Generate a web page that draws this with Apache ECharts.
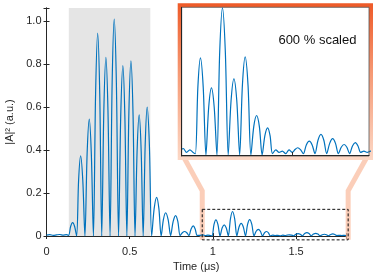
<!DOCTYPE html>
<html><head><meta charset="utf-8">
<script src="https://cdn.jsdelivr.net/npm/echarts@6/dist/echarts.min.js"></script>
<style>html,body{margin:0;padding:0;background:#fff}#c{width:374px;height:276px}</style>
</head><body><div id="c"></div>
<script>
// ---- data (time in μs, |A|^2 in a.u.) ----
const time = [
  0.000, 0.020, 0.040, 0.060, 0.080, 0.100, 0.120, 0.133,
  0.145, 0.157, 0.169, 0.181,
  0.193, 0.205, 0.218, 0.231,
  0.244, 0.257, 0.2695, 0.282,
  0.295, 0.3075, 0.320, 0.332,
  0.3445, 0.357, 0.3695, 0.382,
  0.3945, 0.407, 0.420, 0.433,
  0.446, 0.459, 0.471, 0.483,
  0.495, 0.5075, 0.520, 0.532,
  0.5445, 0.557, 0.569, 0.581,
  0.593, 0.605, 0.6185, 0.632,
  0.647, 0.662, 0.6755, 0.689,
  0.7025, 0.716, 0.731, 0.746,
  0.761, 0.776, 0.7895, 0.803,
  0.8165, 0.830, 0.843, 0.856,
  0.869, 0.882, 0.8935, 0.905,
  0.920, 0.940, 0.955, 0.970, 0.985, 0.995,
  1.0065, 1.018, 1.0305, 1.043,
  1.0555, 1.068, 1.0805, 1.093,
  1.1055, 1.118, 1.131, 1.144,
  1.157, 1.170, 1.183, 1.196,
  1.2085, 1.221, 1.234, 1.247,
  1.260, 1.273, 1.2855, 1.298,
  1.3105, 1.323, 1.334, 1.345,
  1.360, 1.375, 1.390, 1.405, 1.420, 1.435,
  1.447, 1.459, 1.472, 1.485,
  1.4985, 1.512, 1.525, 1.538,
  1.5515, 1.565, 1.578, 1.591,
  1.6045, 1.618, 1.631, 1.644,
  1.657, 1.670, 1.6825, 1.695,
  1.708, 1.721, 1.733, 1.745,
  1.760, 1.775, 1.790, 1.800
];
const intensity = [
  0.004, 0.006, 0.003, 0.005, 0.007, 0.004, 0.006, 0.003,
  0.044, 0.062, 0.044, 0.000,
  0.260, 0.373, 0.260, 0.000,
  0.380, 0.543, 0.380, 0.000,
  0.660, 0.943, 0.660, 0.000,
  0.580, 0.830, 0.580, 0.000,
  0.710, 1.008, 0.710, 0.000,
  0.555, 0.792, 0.555, 0.000,
  0.570, 0.814, 0.570, 0.000,
  0.395, 0.563, 0.395, 0.000,
  0.420, 0.599, 0.420, 0.000,
  0.127, 0.180, 0.127, 0.000,
  0.076, 0.108, 0.076, 0.002,
  0.067, 0.095, 0.067, 0.002,
  0.015, 0.021, 0.015, 0.002,
  0.033, 0.047, 0.033, 0.003,
  0.003, 0.005, 0.002, 0.004, 0.002, 0.001,
  0.053, 0.0753, 0.053, 0.000,
  0.037, 0.052, 0.037, 0.000,
  0.080, 0.114, 0.080, 0.000,
  0.042, 0.059, 0.042, 0.000,
  0.054, 0.076, 0.054, 0.000,
  0.022, 0.0306, 0.022, 0.000,
  0.015, 0.021, 0.015, 0.001,
  0.004, 0.002, 0.003, 0.001, 0.004, 0.002,
  0.0042, 0.0056, 0.0042, 0.001,
  0.0078, 0.0107, 0.0078, 0.001,
  0.0114, 0.0159, 0.0114, 0.001,
  0.009, 0.0126, 0.009, 0.001,
  0.006, 0.0081, 0.006, 0.001,
  0.007, 0.0095, 0.007, 0.002,
  0.003, 0.002, 0.003, 0.002
];
const xTicksMain = [0, 0.5, 1, 1.5];
const yTicksMain = [0, 0.2, 0.4, 0.6, 0.8, 1.0];
const xTicksInset = [1.0, 1.5];
const mainXRange = [0, 1.8];
const mainYRange = [0, 1.06];
const shadedRange = [0.134, 0.624];
const zoomBoxX = [0.936, 1.813];
const zoomBoxY = [-0.018, 0.124];
const funnelBendY = 0.21;
const insetXRange = [0.933, 1.783];
const insetYRange = [-0.0008, 0.1145];
const insetLabel = '600 % scaled';
const insetLabelAt = [1.549, 0.089];
const xName = 'Time (μs)';
const yName = '|A|² (a.u.)';

// ---- chart ----
const FONT = 'Liberation Sans, Arial, Helvetica, sans-serif';
const AX = '#262626';
const pts = time.map((t, i) => [t, intensity[i]]);
const inList = (arr) => (v) => arr.some(a => Math.abs(a - v) < 1e-9);
const isMainX = inList(xTicksMain), isMainY = inList(yTicksMain), isInsetX = inList(xTicksInset);

const chart = echarts.init(document.getElementById('c'), null, {renderer: 'canvas'});
const tickStyle = {show: true, inside: true, length: 3, lineStyle: {color: AX, width: 1}};
chart.setOption({
  animation: false,
  grid: [
    {left: 46.5, top: 8, width: 299.5, height: 228, outerBoundsMode: 'none', containLabel: false},
    {left: 181.7, top: 7.3, width: 187.3, height: 148.7, outerBoundsMode: 'none', containLabel: false}
  ],
  xAxis: [
    {type: 'value', gridIndex: 0, min: mainXRange[0], max: mainXRange[1], interval: 0.5,
     axisLine: {lineStyle: {color: AX, width: 1}}, axisTick: tickStyle, splitLine: {show: false},
     axisLabel: {color: AX, fontFamily: FONT, fontSize: 11, margin: 10,
       formatter: v => isMainX(v) ? String(v) : ''},
     name: xName, nameLocation: 'middle', nameGap: 17,
     nameTextStyle: {color: AX, fontFamily: FONT, fontSize: 11}},
    {type: 'value', gridIndex: 0, position: 'top', min: mainXRange[0], max: mainXRange[1], interval: 0.5,
     axisLine: {lineStyle: {color: AX, width: 1}}, axisTick: tickStyle, axisLabel: {show: false}, splitLine: {show: false}},
    {type: 'value', gridIndex: 1, min: insetXRange[0], max: insetXRange[1], interval: 0.5, z: 6,
     axisLine: {lineStyle: {color: AX, width: 1}}, axisTick: tickStyle, splitLine: {show: false},
     axisLabel: {color: AX, fontFamily: FONT, fontSize: 11, margin: 4,
       formatter: v => isInsetX(v) ? v.toFixed(1) : '', showMinLabel: false, showMaxLabel: false}}
  ],
  yAxis: [
    {type: 'value', gridIndex: 0, min: mainYRange[0], max: mainYRange[1], interval: 0.2,
     axisLine: {lineStyle: {color: AX, width: 1}}, axisTick: tickStyle, splitLine: {show: false},
     axisLabel: {color: AX, fontFamily: FONT, fontSize: 11, margin: 5,
       formatter: v => isMainY(v) ? (v === 0 ? '0' : v.toFixed(1)) : ''},
     name: yName, nameLocation: 'middle', nameGap: 22, nameRotate: 90,
     nameTextStyle: {color: AX, fontFamily: FONT, fontSize: 11}},
    {type: 'value', gridIndex: 0, position: 'right', min: mainYRange[0], max: mainYRange[1], interval: 0.2,
     axisLine: {lineStyle: {color: AX, width: 1}}, axisTick: tickStyle, axisLabel: {show: false}, splitLine: {show: false}},
    {type: 'value', gridIndex: 1, min: insetYRange[0], max: insetYRange[1], z: 6,
     axisLine: {lineStyle: {color: AX, width: 1}}, axisTick: {show: false}, axisLabel: {show: false}, splitLine: {show: false}}
  ],
  series: [
    {type: 'line', xAxisIndex: 0, yAxisIndex: 0, data: pts, showSymbol: false, z: 2,
     smooth: 0.3,
     lineStyle: {color: '#0072BD', width: 1.2},
     markArea: {silent: true, itemStyle: {color: '#e5e5e5'},
       data: [[{xAxis: shadedRange[0]}, {xAxis: shadedRange[1]}]]}},
    {type: 'line', xAxisIndex: 2, yAxisIndex: 2, data: pts, showSymbol: false, z: 5,
     smooth: 0.3, clip: true,
     lineStyle: {color: '#0072BD', width: 1.2}}
  ]
});

// ---- annotations positioned through the library's scales ----
const pm = (p) => chart.convertToPixel({seriesIndex: 0}, p);
const pi = (p) => chart.convertToPixel({seriesIndex: 1}, p);
const bTL = pm([zoomBoxX[0], zoomBoxY[1]]), bBR = pm([zoomBoxX[1], zoomBoxY[0]]);
const iTL = pi([insetXRange[0], insetYRange[1]]), iBR = pi([insetXRange[1], insetYRange[0]]);
const bendL = pm([zoomBoxX[0], funnelBendY]), bendR = pm([zoomBoxX[1], funnelBendY]);
const txt = pi(insetLabelAt);
const fw = 4;
chart.setOption({
  graphic: [
    {type: 'polyline', z: 1, silent: true,
     shape: {points: [[iTL[0] + 2, iBR[1] + 1], [bendL[0], bendL[1]], [bendL[0], bBR[1]]]},
     style: {stroke: 'rgba(249,190,162,0.75)', lineWidth: 5, fill: null, lineJoin: 'miter'}},
    {type: 'polyline', z: 1, silent: true,
     shape: {points: [[iBR[0] - 2, iBR[1] + 1], [bendR[0], bendR[1]], [bendR[0], bBR[1]]]},
     style: {stroke: 'rgba(249,190,162,0.75)', lineWidth: 5, fill: null, lineJoin: 'miter'}},
    {type: 'rect', z: 3, silent: true,
     shape: {x: bTL[0], y: bTL[1], width: bBR[0] - bTL[0], height: bBR[1] - bTL[1]},
     style: {fill: null, stroke: '#111', lineWidth: 1, lineDash: [3, 2]}},
    {type: 'rect', z: 4, silent: true,
     shape: {x: iTL[0] - fw / 2, y: iTL[1] - fw / 2, width: iBR[0] - iTL[0] + fw, height: iBR[1] - iTL[1] + fw},
     style: {fill: '#fff', lineWidth: fw,
       stroke: new echarts.graphic.LinearGradient(0, 0, 0, 1, [
         {offset: 0, color: '#ee5a28'}, {offset: 0.45, color: '#f69a75'}, {offset: 1, color: '#fcd8c6'}])}},
    {type: 'rect', z: 6, silent: true,
     shape: {x: iTL[0], y: iTL[1], width: iBR[0] - iTL[0], height: iBR[1] - iTL[1]},
     style: {fill: null, stroke: '#555', lineWidth: 0.8}},
    {type: 'text', z: 7, silent: true, x: txt[0], y: txt[1],
     style: {text: insetLabel, fill: '#111', font: '13px ' + FONT, align: 'center', verticalAlign: 'middle'}}
  ]
});
</script></body></html>
